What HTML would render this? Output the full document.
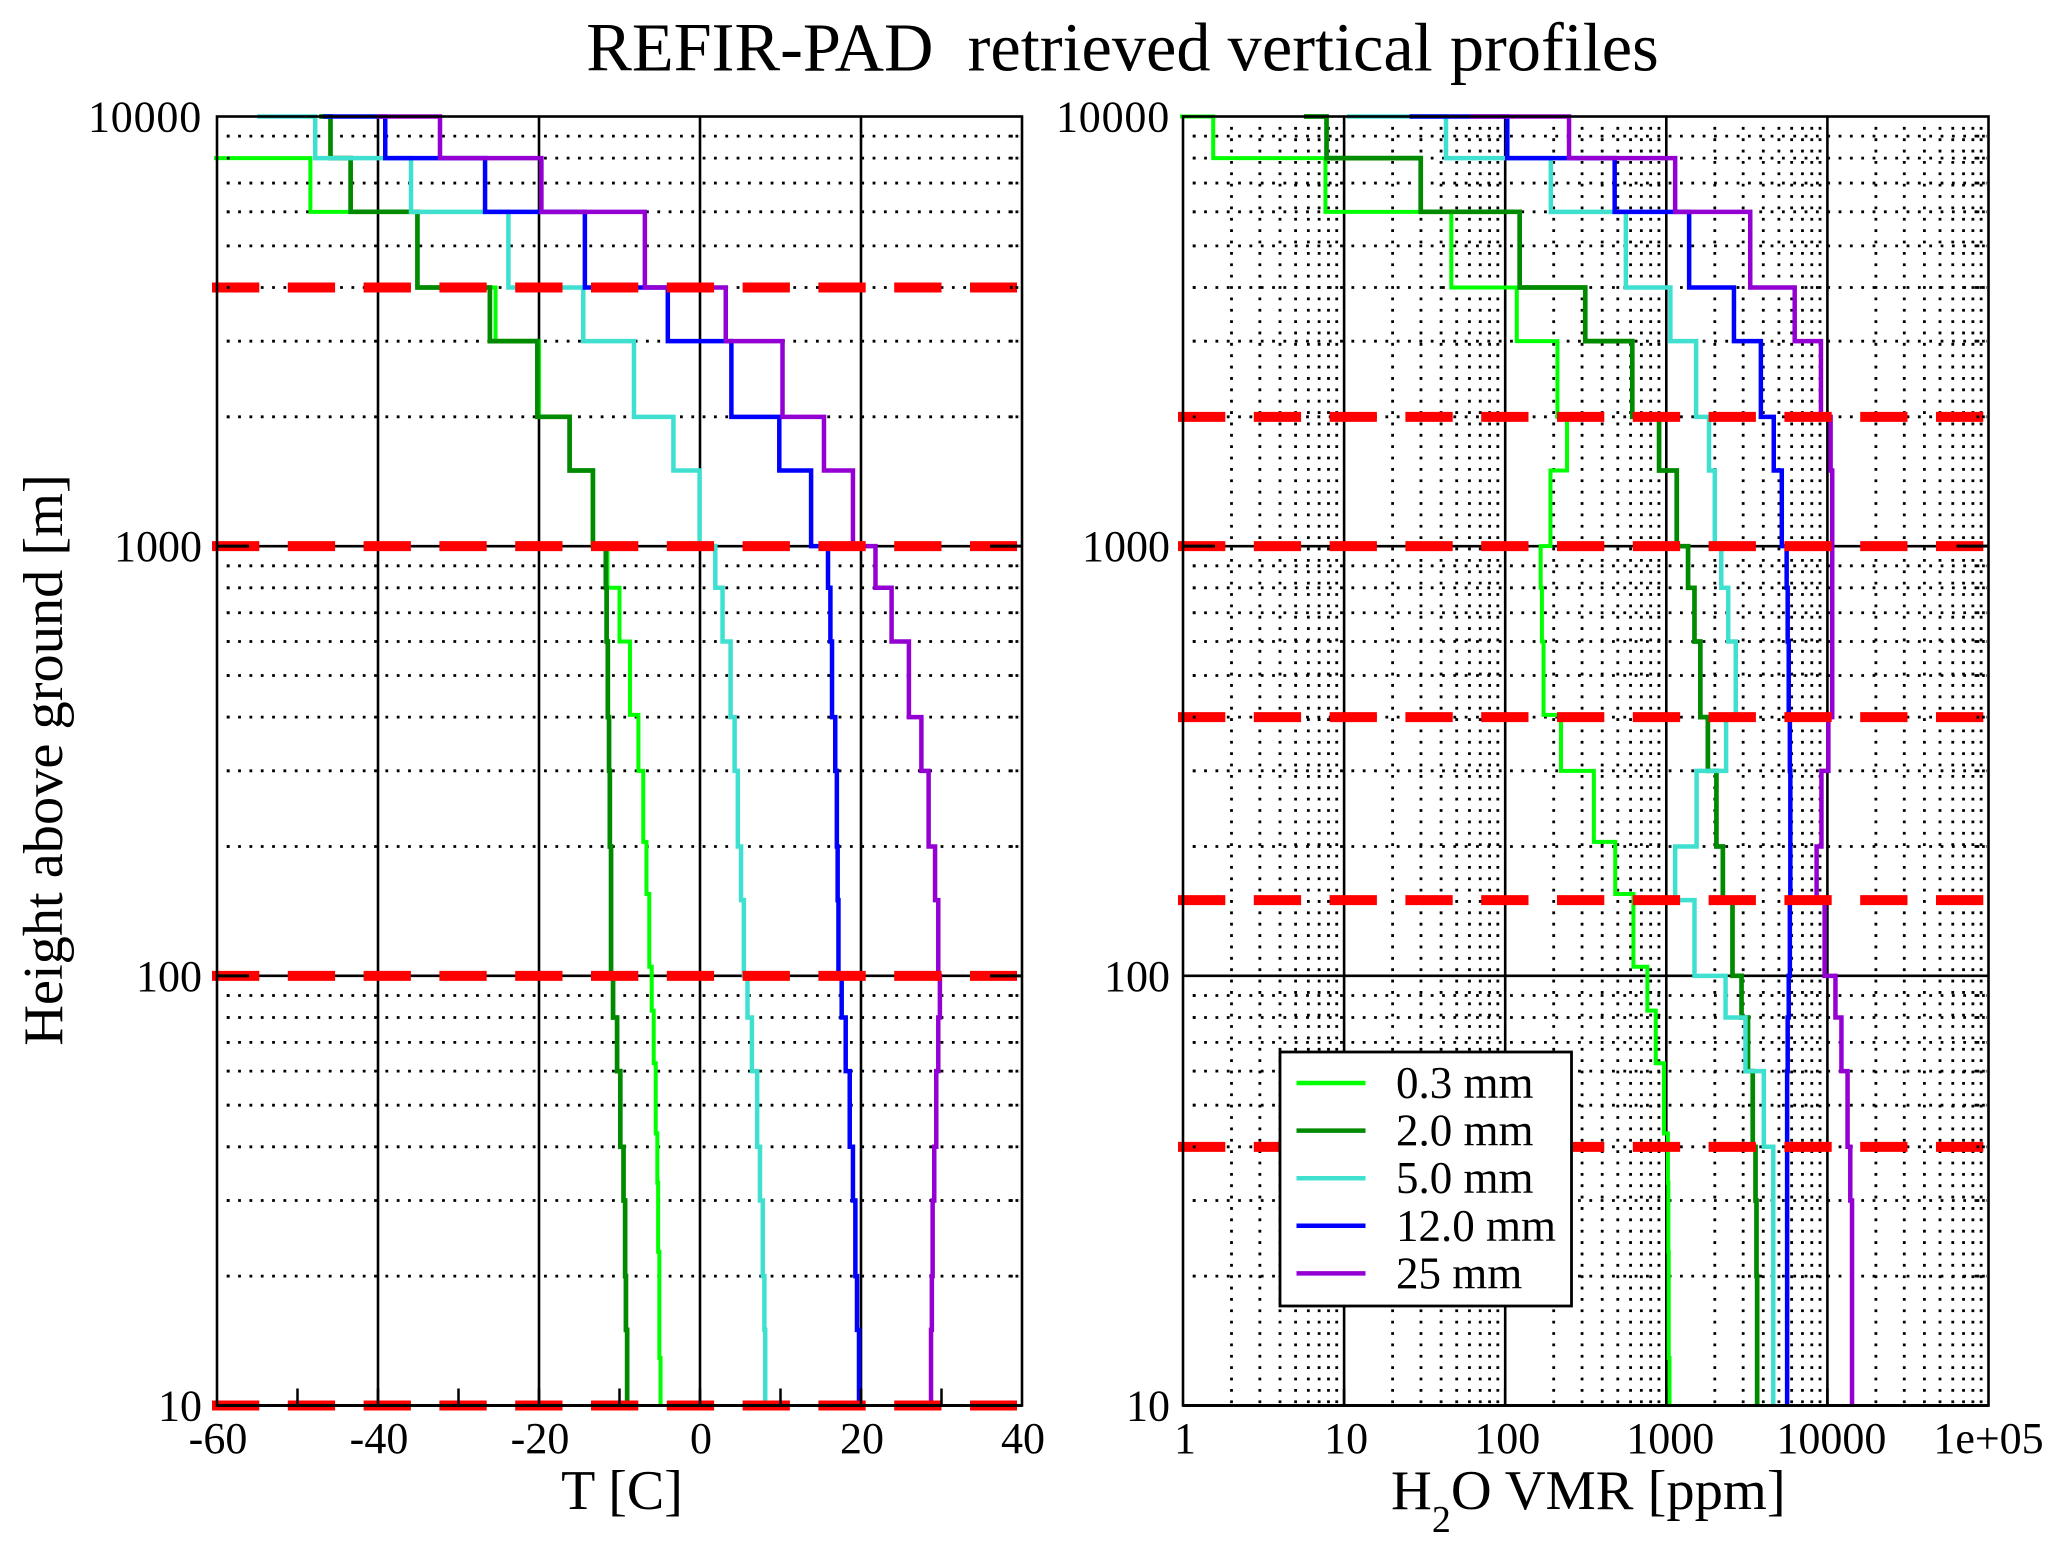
<!DOCTYPE html>
<html lang="en">
<head>
<meta charset="utf-8">
<title>REFIR-PAD retrieved vertical profiles</title>
<style>
html,body{margin:0;padding:0;background:#fff;}
svg{display:block;}
text{font-family:"Liberation Serif","Times New Roman",serif;fill:#000;}
</style>
</head>
<body>
<svg id="chart" xmlns="http://www.w3.org/2000/svg" width="2067" height="1555" viewBox="0 0 2067 1555">
  <rect x="0" y="0" width="2067" height="1555" fill="#fff"/>
  <defs>
    <clipPath id="clip-t"><rect x="214" y="113" width="811" height="1296"/></clipPath>
    <clipPath id="clip-v"><rect x="1180" y="113" width="811" height="1296"/></clipPath>
  </defs>
  <text x="1122.5" y="70.5" font-size="68.4" text-anchor="middle" xml:space="preserve">REFIR-PAD&#160;&#160;retrieved vertical profiles</text>
  <g id="panel-t"></g>
  <g id="panel-v"></g>
  <text transform="translate(62,760) rotate(-90)" font-size="56.4" text-anchor="middle">Height above ground [m]</text>
  <text x="622" y="1509" font-size="56" text-anchor="middle">T [C]</text>
  <text x="1391" y="1509" font-size="56.5">H<tspan font-size="38" dy="23">2</tspan><tspan dy="-23">O VMR [ppm]</tspan></text>
  <g id="legend"></g>
</svg>
<script>
// ---- Chart data: heights in metres, temperatures in C, water vapour in ppm (bottom to top) ----
const heightLevels = [10,15,20,30,40,60,80,100,150,200,300,400,600,800,1000,1500,2000,3000,4000,6000,8000,10000];
const thinHeightLevels = [10,12.9,22.8,33,43,62.6,83,105,155,205,300,405,600,800,1000,1500,2000,3000,4000,6000,8000,10000];

const legendLabels = ['0.3 mm','2.0 mm','5.0 mm','12.0 mm','25 mm'];

const tempPwv03 = [-4.9,-5.05,-5.2,-5.3,-5.5,-5.75,-6,-6.3,-6.65,-7.05,-7.65,-8.7,-10,-11.5,-13.3,-16.2,-20,-25.4,-35.1,-48.4,-62,-62];
const tempPwv2 = [-9.05,-9.2,-9.3,-9.5,-9.9,-10.3,-10.8,-11.05,-11.05,-11.2,-11.3,-11.45,-11.6,-11.7,-13.3,-16.2,-20.2,-26.1,-35.1,-43.4,-45.9,-47.3];
const tempPwv5 = [8.1,8,7.8,7.45,7.1,6.45,5.9,5.45,5.1,4.7,4.3,3.8,2.8,1.9,-0.05,-3.3,-8.2,-14.5,-23.8,-35.9,-47.8,-55];
const tempPwv12 = [19.75,19.5,19.3,19,18.6,18.1,17.6,17.2,17.1,17,16.8,16.4,16.2,15.9,13.8,9.85,3.9,-4,-14.3,-26.7,-39.1,-46.8];
const tempPwv25 = [28.7,28.8,28.9,29.1,29.35,29.6,29.8,29.6,29.2,28.4,27.5,25.95,23.8,21.8,19,15.4,10.25,3.2,-6.85,-19.7,-32.3,-40.1];

const vmrPwv03 = [1047,1035,1030,1023,967,860,763,625,482,355,222,173,169,166,191,242,211,118,46.3,7.66,1.54,0.8];
const vmrPwv2 = [3664,3664,3630,3580,3440,3215,2931,2576,2244,2047,1811,1627,1496,1365,1161,902,615,314,123,29.9,7.78,5.64];
const vmrPwv5 = [4613,4613,4613,4613,4030,3100,2333,1496,1135,1542,2350,2698,2423,2194,2000,1841,1531,1060,561,192,42.9,10.4];
const vmrPwv12 = [5623,5623,5623,5623,5623,5668,5754,5848,5888,5888,5848,5754,5668,5585,5210,4645,3864,2630,1386,478,103,25.5];
const vmrPwv25 = [14220,14220,14220,13870,13340,12220,11220,9610,8570,9183,10139,10715,10715,10715,10715,10470,9120,6266,3319,1135,249,60.5];

const tempTickValues = [-60,-40,-20,0,20,40];
const tempMinorTicks = [-50,-30,-10,10,30];
const vmrTickValues = [1,10,100,1000,10000,100000];
const vmrTickLabels = ['1','10','100','1000','10000','1e+05'];
const heightTickValues = [10,100,1000,10000];
const tempRedHeights = [10,100,1000,4000];
const vmrRedHeights = [40,150,400,1000,2000];

// ---- Scales ----
const NS = 'http://www.w3.org/2000/svg';
const plotTop = 116.5, plotBottom = 1405.5;
const decadeY = (plotBottom - plotTop) / 3;
function yScale(h){ return plotBottom - decadeY * Math.log10(h / 10); }
const tLeft = 217, tRight = 1022;
function tScale(t){ return tLeft + (t + 60) * (tRight - tLeft) / 100; }
const vLeft = 1183, vRight = 1988.5;
function vScale(v){ return vLeft + (vRight - vLeft) / 5 * Math.log10(v); }

const seriesColors = ['#00ff00','#008a00','#40e0d0','#0000ff','#9400d3'];
const seriesWidths = [4,4.7,4.5,4.5,4.5];

function make(parent, tag, attrs, text){
  const el = document.createElementNS(NS, tag);
  for (const k in attrs) el.setAttribute(k, attrs[k]);
  if (text !== undefined) el.textContent = text;
  parent.appendChild(el);
  return el;
}
function stepPath(levels, values, xs){
  let d = 'M' + xs(values[0]).toFixed(2) + ' ' + yScale(levels[0]).toFixed(2);
  for (let i = 0; i < values.length - 1; i++){
    const y = yScale(levels[i + 1]).toFixed(2);
    d += 'L' + xs(values[i]).toFixed(2) + ' ' + y + 'L' + xs(values[i + 1]).toFixed(2) + ' ' + y;
  }
  return d;
}

function minorHeights(){
  const out = [];
  for (let k = 10; k < 10000; k *= 10) for (let m = 2; m <= 9; m++) out.push(k * m);
  return out;
}

function drawPanel(cfg){
  const g = document.getElementById(cfg.id);
  const L = cfg.left, R = cfg.right;

  // minor horizontal dotted grid
  minorHeights().forEach(function(h){
    const line = make(g, 'line', {x1:L + 9.8, x2:R - 2, y1:yScale(h), y2:yScale(h), stroke:'#000', 'stroke-width':2.8, 'stroke-dasharray':'2.8 8.53'});
    
    
  });

  // minor vertical dotted grid (log panel only)
  if (cfg.minorX) cfg.minorX.forEach(function(v){
    const line = make(g, 'line', {x1:cfg.xs(v), x2:cfg.xs(v), y1:126.9, y2:1404, stroke:'#000', 'stroke-width':2.8, 'stroke-dasharray':'2.8 8.57'});
    
    
  });

  // major gridlines
  cfg.majorX.forEach(function(v){
    const line = make(g, 'line', {x1:cfg.xs(v), x2:cfg.xs(v), y1:plotTop, y2:plotBottom, stroke:'#000', 'stroke-width':2.6});
    
    
  });
  [100,1000].forEach(function(h){
    const line = make(g, 'line', {x1:L, x2:R, y1:yScale(h), y2:yScale(h), stroke:'#000', 'stroke-width':2.6});
    
    
  });

  // series
  const sg = make(g, 'g', {'clip-path':'url(#' + cfg.clip + ')'});
  
  
  cfg.series.forEach(function(vals, i){
    const levels = i === 0 ? thinHeightLevels : heightLevels;
    const p = make(sg, 'path', {d:stepPath(levels, vals, cfg.xs), fill:'none', stroke:seriesColors[i], 'stroke-width':seriesWidths[i], 'stroke-linejoin':'miter'});
    
    
  });

  // red dashed reference levels
  cfg.red.forEach(function(h){
    const line = make(g, 'line', {x1:L - 5, x2:R - 5, y1:yScale(h), y2:yScale(h), stroke:'#ff0000', 'stroke-width':10, 'stroke-dasharray':'47.3 28.5'});
    
    
  });

  // minor dotted tick marks drawn above everything
  minorHeights().forEach(function(h){
    [L + 9.8, R - 6.5, R - 12].forEach(function(x){
      const tick = make(g, 'rect', {x:x, y:yScale(h) - 1.4, width:2.8, height:2.8, fill:'#000'});
      
      
    });
  });

  // major ticks on left and right edges
  [100,1000].forEach(function(h){
    if (h === 100 && cfg.id === 'panel-v') return;
    const a = make(g, 'line', {x1:L, x2:L + 32, y1:yScale(h), y2:yScale(h), stroke:'#000', 'stroke-width':3});
    
    
    const b = make(g, 'line', {x1:R - 32, x2:R, y1:yScale(h), y2:yScale(h), stroke:'#000', 'stroke-width':3});
    
    
  });

  // bottom axis vertical ticks through red band
  cfg.majorX.forEach(function(v){
    const t = make(g, 'line', {x1:cfg.xs(v), x2:cfg.xs(v), y1:plotBottom - 17, y2:plotBottom, stroke:'#000', 'stroke-width':2.6});
    
    
  });
  if (cfg.minorTicks) cfg.minorTicks.forEach(function(v){
    const t = make(g, 'line', {x1:cfg.xs(v), x2:cfg.xs(v), y1:plotBottom - 17, y2:plotBottom, stroke:'#000', 'stroke-width':2.5});
    
    
  });

  // frame
  const frame = make(g, 'rect', {x:L, y:plotTop, width:R - L, height:plotBottom - plotTop, fill:'none', stroke:'#000', 'stroke-width':2.6});
  
  
  const base = make(g, 'line', {x1:L, x2:R, y1:plotBottom, y2:plotBottom, stroke:'#000', 'stroke-width':3});
  
  

  // y tick labels
  heightTickValues.forEach(function(h){
    const t = make(g, 'text', {x:cfg.yLabelX, y:yScale(h) + 15, 'font-size':44, 'text-anchor':'end', 'letter-spacing':h === 10000 ? 0.8 : 0}, String(h));
    
    
  });
  // x tick labels
  cfg.ticks.forEach(function(v, i){
    const t = make(g, 'text', {x:cfg.xs(v) + cfg.labelShift[i], y:1453, 'font-size':44, 'text-anchor':'middle'}, cfg.labels[i]);
    
    
  });
}

const vmrMinor = [];
for (let k = 1; k < 100000; k *= 10) for (let m = 2; m <= 9; m++) vmrMinor.push(k * m);

drawPanel({
  id:'panel-t', left:tLeft, right:tRight, xs:tScale, clip:'clip-t',
  series:[tempPwv03,tempPwv2,tempPwv5,tempPwv12,tempPwv25],
  red:tempRedHeights,
  majorX:[-40,-20,0,20],
  minorTicks:tempMinorTicks,
  ticks:tempTickValues,
  labels:tempTickValues.map(String),
  tickName:'temperature-tick-label',
  labelShift:[1,1,1,1,1,1],
  yLabelX:202
});
drawPanel({
  id:'panel-v', left:vLeft, right:vRight, xs:vScale, clip:'clip-v',
  series:[vmrPwv03,vmrPwv2,vmrPwv5,vmrPwv12,vmrPwv25],
  red:vmrRedHeights,
  majorX:[10,100,1000,10000],
  minorX:vmrMinor,
  ticks:vmrTickValues,
  labels:vmrTickLabels,
  tickName:'vmr-tick-label',
  labelShift:[2,2,2,4,4,0],
  yLabelX:1170
});

// ---- Legend ----
(function(){
  const g = document.getElementById('legend');
  const box = make(g, 'rect', {x:1280, y:1052, width:291.5, height:254, fill:'#fff', stroke:'#000', 'stroke-width':2.8});
  
  
  legendLabels.forEach(function(label, i){
    const y = 1083 + i * 47.6;
    const s = make(g, 'line', {x1:1296.5, x2:1365.5, y1:y, y2:y, stroke:seriesColors[i], 'stroke-width':4.5});
    
    
    const t = make(g, 'text', {x:1396, y:y + 15, 'font-size':45}, label);
    
    
  });
})();
</script>
</body>
</html>
